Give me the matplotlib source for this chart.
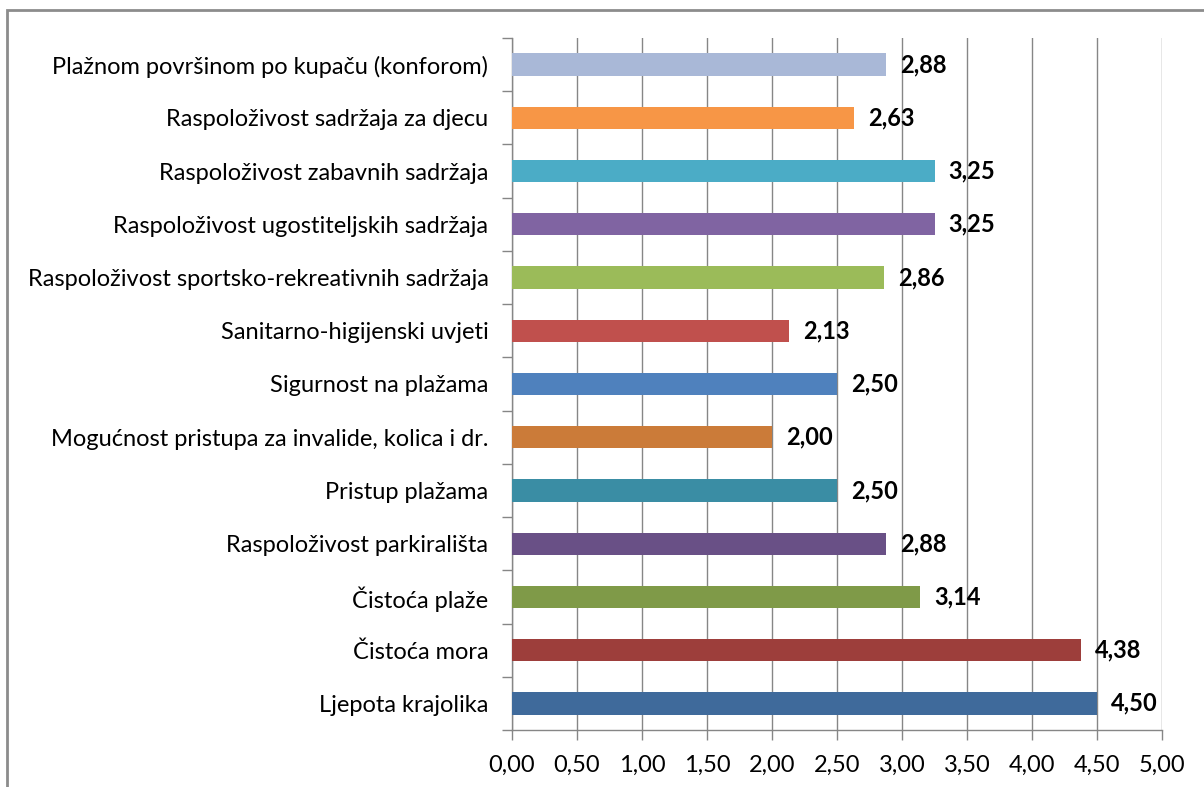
import matplotlib
matplotlib.use("Agg")
import matplotlib.pyplot as plt
from matplotlib.patches import Rectangle
from matplotlib.ticker import MultipleLocator, FuncFormatter

plt.rcParams["font.family"] = ["Lato", "DejaVu Sans"]

# bottom to top, as drawn
categories = [
    "Ljepota krajolika",
    "Čistoća mora",
    "Čistoća plaže",
    "Raspoloživost parkirališta",
    "Pristup plažama",
    "Mogućnost pristupa za invalide, kolica i dr.",
    "Sigurnost na plažama",
    "Sanitarno-higijenski uvjeti",
    "Raspoloživost sportsko-rekreativnih sadržaja",
    "Raspoloživost ugostiteljskih sadržaja",
    "Raspoloživost zabavnih sadržaja",
    "Raspoloživost sadržaja za djecu",
    "Plažnom površinom po kupaču (konforom)",
]
values = [4.50, 4.38, 3.14, 2.88, 2.50, 2.00, 2.50, 2.13, 2.86, 3.25, 3.25, 2.63, 2.88]
colors = [
    "#3F6A9B", "#9D3E3B", "#7F9A48", "#695086", "#3A8DA4", "#CB7B39",
    "#4F81BD", "#C0504D", "#9BBB59", "#8064A2", "#4BACC6", "#F79646",
    "#A9B8D7",
]

grey = "#868686"

fig = plt.figure(figsize=(12.04, 7.87), dpi=100)
ax = fig.add_axes([512 / 1204, 1 - 730 / 787, 650 / 1204, 692 / 787])

ypos = range(len(categories))
bars = ax.barh(ypos, values, height=0.42, color=colors, zorder=3)
ax.bar_label(bars, labels=[f"{v:.2f}".replace(".", ",") for v in values],
             padding=10, fontsize=17, fontweight="bold", color="black")

ax.set_xlim(0, 5)
ax.set_ylim(-0.5, len(categories) - 0.5)
ax.xaxis.set_major_locator(MultipleLocator(0.5))
ax.xaxis.set_major_formatter(FuncFormatter(lambda x, p: f"{x:.2f}".replace(".", ",")))
ax.set_yticks(list(ypos))
ax.set_yticklabels(categories)
ax.set_yticks([i - 0.5 for i in range(len(categories) + 1)], minor=True)

ax.tick_params(axis="y", which="major", length=0, pad=17, labelsize=17)
ax.tick_params(axis="y", which="minor", length=7, width=1, color=grey, direction="out")
ax.tick_params(axis="x", length=7, width=1, color=grey, direction="out", pad=11, labelsize=17)

ax.grid(axis="x", color=grey, linewidth=1)
ax.set_axisbelow(True)
for s in ["top", "right"]:
    ax.spines[s].set_visible(False)
for s in ["left", "bottom"]:
    ax.spines[s].set_color(grey)
    ax.spines[s].set_linewidth(1)

# chart area border
fig.add_artist(Rectangle((7 / 1204, -0.05), 1.1, 1.05 - 10 / 787,
                         transform=fig.transFigure, fill=False,
                         edgecolor="#8C8C8C", linewidth=2, clip_on=False))

fig.savefig("out.png", dpi=100)
